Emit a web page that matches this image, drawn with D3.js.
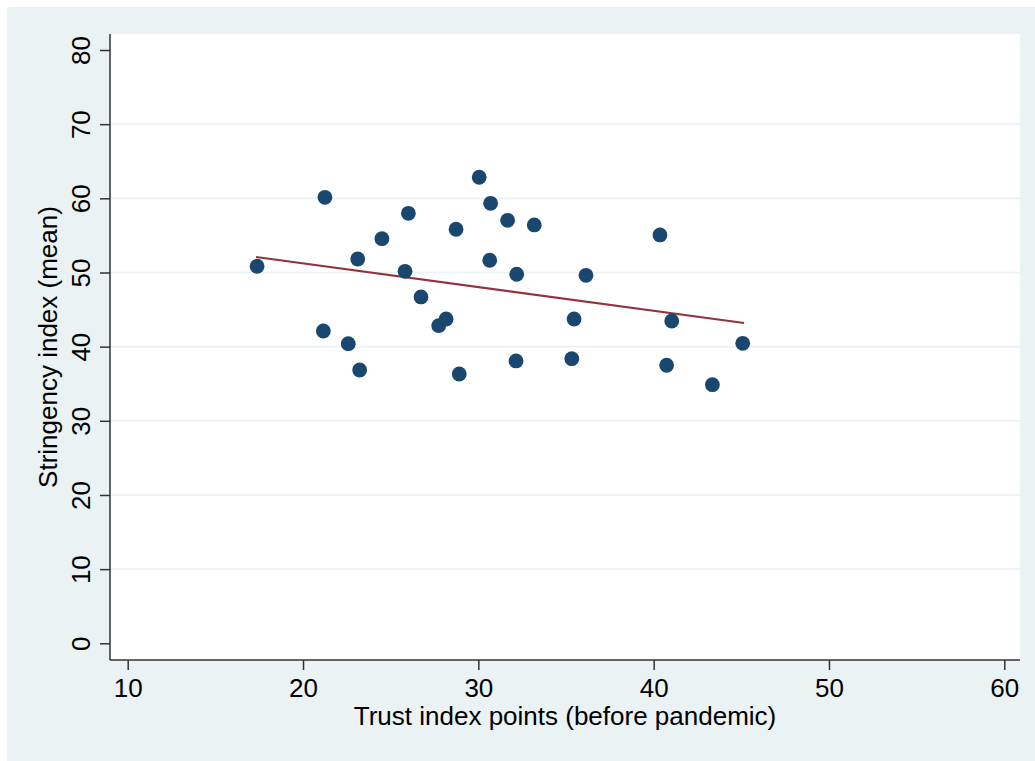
<!DOCTYPE html>
<html lang="en">
<meta charset="utf-8">
<head>
    <script src='https://d3js.org/d3.v7.min.js'></script>
    <style>
        body { margin: 0; background: #ffffff; }
        text { font-family: "Liberation Sans", Arial, sans-serif; fill: #000; }
    </style>
</head>
<body>
<script>

// data
var trust = [17.38, 21.25, 21.16, 22.58, 23.12, 23.23, 24.50, 25.82, 26.01, 26.73,
             27.74, 28.16, 28.73, 28.91, 30.05, 30.70, 30.65, 31.67, 32.19, 32.15,
             33.19, 35.33, 35.46, 36.14, 40.36, 40.74, 41.03, 43.35, 45.08]
var stringency = [50.84, 60.14, 42.11, 40.40, 51.82, 36.85, 54.56, 50.16, 57.98, 46.70,
                  42.83, 43.73, 55.83, 36.31, 62.84, 59.33, 51.65, 57.04, 49.76, 38.07,
                  56.41, 38.38, 43.73, 49.62, 55.06, 37.49, 43.46, 34.87, 40.45]

// fitted line end points
var fitX = [17.32, 45.16]
var fitY = [52.09, 43.19]

var xTicks = [10, 20, 30, 40, 50, 60]
var yTicks = [0, 10, 20, 30, 40, 50, 60, 70, 80]

// build svg
var width = 1035;
var height = 761;
var plot = {left: 110, right: 1020, top: 34, bottom: 660};

var svg = d3.select('body')
    .append("svg")
    .attr("width", width)
    .attr("height", height);

// outer background
svg.append("rect")
    .attr("x", 7)
    .attr("y", 7)
    .attr("width", width - 7)
    .attr("height", height - 7)
    .attr("fill", "#eaf2f3");

// plot region
svg.append("rect")
    .attr("x", plot.left)
    .attr("y", plot.top)
    .attr("width", plot.right - plot.left)
    .attr("height", plot.bottom - plot.top)
    .attr("fill", "#ffffff");

var x = d3.scaleLinear()
    .domain([10, 60])
    .range([127.7, 1004.3]);

var y = d3.scaleLinear()
    .domain([0, 80])
    .range([643.3, 50]);

// grid lines
svg.append("g")
    .selectAll("line")
    .data(yTicks.filter(function(d) { return d > 0 && d < 80 }))
    .enter()
    .append("line")
    .attr("x1", plot.left)
    .attr("x2", plot.right)
    .attr("y1", function(d) { return y(d) })
    .attr("y2", function(d) { return y(d) })
    .attr("stroke", "#eaf2f3")
    .attr("stroke-width", 1.6);

// X axis
var xAxis = svg.append("g")
    .attr("transform", "translate(0," + plot.bottom + ")")
    .call(d3.axisBottom(x).tickValues(xTicks).tickSize(10).tickPadding(9).tickSizeOuter(0));
xAxis.select(".domain")
    .attr("d", "M" + plot.left + ",0H" + plot.right);

// Y axis
var yAxis = svg.append("g")
    .attr("transform", "translate(" + plot.left + ",0)")
    .call(d3.axisLeft(y).tickValues(yTicks).tickSize(10).tickSizeOuter(0));
yAxis.select(".domain")
    .attr("d", "M0," + plot.top + "V" + plot.bottom);
yAxis.selectAll(".tick text")
    .attr("x", 0)
    .attr("y", 0)
    .attr("dy", 0)
    .attr("text-anchor", "middle")
    .attr("transform", "translate(-20,0) rotate(-90)");

svg.selectAll(".domain, .tick line")
    .attr("stroke", "#333333")
    .attr("stroke-width", 1.5);
svg.selectAll(".tick text")
    .style("font-size", "26px")
    .style("font-family", "Liberation Sans, Arial, sans-serif")
    .attr("fill", "#000");

// fitted line
var fit = fitX.map(function(d, i) { return {x: d, y: fitY[i]} });
svg.append("path")
    .datum(fit)
    .attr("fill", "none")
    .attr("stroke", "#90353b")
    .attr("stroke-width", 2.2)
    .attr("d", d3.line()
        .x(function(d) { return x(d.x) })
        .y(function(d) { return y(d.y) })
    );

// points
svg.append("g")
    .selectAll("circle")
    .data(trust)
    .enter()
    .append("circle")
    .attr("cx", function(d) { return x(d) })
    .attr("cy", function(d, i) { return y(stringency[i]) })
    .attr("r", 7.4)
    .attr("fill", "#1a476f");

// titles
svg.append("text")
    .attr("x", (plot.left + plot.right) / 2)
    .attr("y", 725)
    .attr("text-anchor", "middle")
    .style("font-size", "26px")
    .text("Trust index points (before pandemic)");

svg.append("text")
    .attr("transform", "translate(57," + (plot.top + plot.bottom) / 2 + ") rotate(-90)")
    .attr("text-anchor", "middle")
    .style("font-size", "26px")
    .text("Stringency index (mean)");

</script>
</body>
</html>
